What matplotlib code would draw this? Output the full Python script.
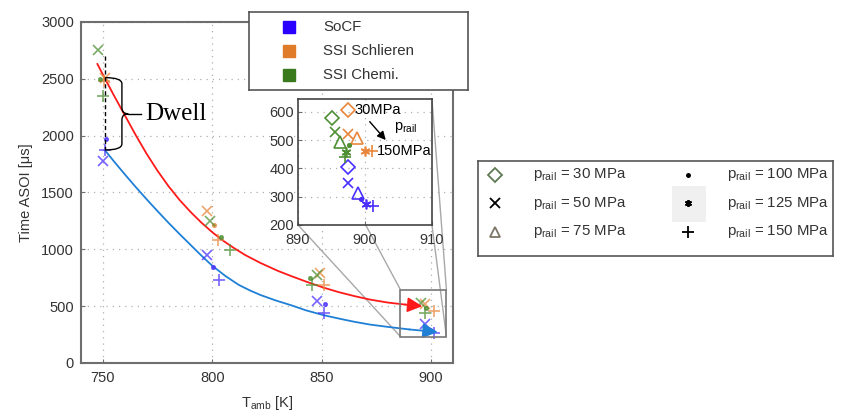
import numpy as np
import matplotlib
matplotlib.use('Agg')
import matplotlib.pyplot as plt
from matplotlib.patches import Rectangle, ConnectionPatch, PathPatch
from matplotlib.path import Path

plt.rcParams['font.family'] = ['Liberation Sans', 'DejaVu Sans']
plt.rcParams['mathtext.fontset'] = 'custom'
plt.rcParams['mathtext.rm'] = 'Liberation Sans'
plt.rcParams['mathtext.it'] = 'Liberation Sans:italic'

# ---- data ----
series_names = ['SoCF', 'SSI Schlieren', 'SSI Chemi.']
series_colors = ['#2a00ff', '#e07b2a', '#3b7a1c']
point_colors = ['#4a30ff', '#e8873c', '#4f9034']

pressures = [30, 50, 75, 100, 125, 150]
pressure_markers = ['D', 'x', '^', '.', (6, 2, 0), '+']
legend_marker_colors = ['#5e7a55', 'black', '#7d7565', 'black', 'black', 'black']

# main plot: p_rail = 50, 100, 150 MPa at T_amb ~ 750 / 800 / 850 K
main_pressures = [50, 100, 150]
socf_T = [[750.1, 797.6, 848.0], [751.2, 800.3, 851.4], [750.9, 802.9, 851.0]]
socf_t = [[1777, 953, 541], [1968, 844, 521], [1874, 733, 438]]
schl_T = [[751.0, 797.6, 849.0], [np.nan, 800.6, np.nan], [750.5, 802.4, 851.0]]
schl_t = [[2510, 1335, 790], [np.nan, 1218, np.nan], [2485, 1079, 688]]
chem_T = [[747.8, 799.1, 848.0], [748.6, 804.0, 844.5], [750.1, 808.0, 845.7]]
chem_t = [[2756, 1247, 770], [2500, 1106, 747], [2350, 997, 688]]

# 900 K cluster, all six rail pressures (shown in the inset)
socf_T_900 = [897.4, 897.4, 898.9, 899.4, 900.1, 901.2]
socf_t_900 = [406, 347, 312, 292, 273, 267]
schl_T_900 = [897.4, 897.4, 898.8, np.nan, 900.0, 901.1]
schl_t_900 = [606, 520, 506, np.nan, 461, 461]
chem_T_900 = [895.0, 895.5, 896.2, 897.6, 897.1, 897.0]
chem_t_900 = [579, 527, 494, 483, 459, 441]

# trend curves (traced)
red_T = [747.5, 751, 755, 760, 765, 770, 775, 780, 785, 790, 795, 800, 805, 810, 815, 822,
         830, 836, 843, 851, 858, 865, 872, 880, 888, 896]
red_t = [2630, 2500, 2355, 2180, 2005, 1840, 1690, 1555, 1435, 1330, 1235, 1150, 1075, 1010, 950, 880,
         810, 765, 715, 662, 622, 588, 558, 532, 514, 500]
blue_T = [751, 755, 760, 765, 770, 775, 780, 785, 790, 795, 800, 806, 812, 817, 822, 829,
          836, 843, 851, 858, 865, 872, 880, 890, 903]
blue_t = [1870, 1775, 1660, 1548, 1440, 1335, 1233, 1135, 1040, 945, 855, 765, 688, 640, 598, 550,
          508, 462, 420, 390, 362, 338, 318, 295, 272]

main_T = [socf_T, schl_T, chem_T]
main_t = [socf_t, schl_t, chem_t]
c900_T = [socf_T_900, schl_T_900, chem_T_900]
c900_t = [socf_t_900, schl_t_900, chem_t_900]

marker_size = {'D': 7, 'x': 6.5, '^': 8, '.': 5, '+': 8}


def msize(m):
    return marker_size.get(m, 7) if isinstance(m, str) else 7


def style_axes(ax):
    for s in ax.spines.values():
        s.set_color('#6e6e6e')
        s.set_linewidth(1.5)
    ax.grid(True, linestyle=(0, (1, 4)), color='#b0b0b0', lw=0.9)
    ax.set_axisbelow(True)
    ax.tick_params(direction='in', length=3, color='#6e6e6e', labelcolor='#333333', labelsize=10.5)


def draw_brace(ax, x0, ytop, ybot, width, tip):
    x1 = x0 + width
    ymid = (ytop + ybot) / 2
    h = (ytop - ybot) * 0.085
    verts = [(x0, ytop), (x1, ytop), (x1, ytop - h), (x1, ymid + h), (x1, ymid), (x1 + tip, ymid),
             (x1, ymid), (x1, ymid - h), (x1, ybot + h), (x1, ybot), (x0, ybot)]
    codes = [Path.MOVETO, Path.CURVE3, Path.CURVE3, Path.LINETO, Path.CURVE3, Path.CURVE3,
             Path.CURVE3, Path.CURVE3, Path.LINETO, Path.CURVE3, Path.CURVE3]
    ax.add_patch(PathPatch(Path(verts, codes), fill=False, edgecolor='black', lw=1.0, zorder=5))
    return x1 + tip, ymid


fig = plt.figure(figsize=(8.42, 4.12), dpi=100)
ax = fig.add_axes([0.0962, 0.119, 0.4418, 0.8277])
style_axes(ax)
ax.set_xlim(740, 910)
ax.set_ylim(0, 3000)
ax.set_xticks([750, 800, 850, 900])
ax.set_yticks(range(0, 3001, 500))
ax.tick_params(axis='x', pad=6)
ax.tick_params(axis='y', pad=5)
ax.set_xlabel(r'T$_{\mathrm{amb}}$ [K]', fontsize=10.5, color='#333333', labelpad=6)
ax.set_ylabel(r'Time ASOI [μs]', fontsize=10.5, color='#333333', labelpad=6)

# trend curves with arrow heads
for T, t, c in [(red_T, red_t, '#ff1a1a'), (blue_T, blue_t, '#1f80d6')]:
    ax.plot(T[:-1], t[:-1], color=c, lw=1.3, zorder=3)
    ax.annotate('', xy=(T[-1], t[-1]), xytext=(T[-2], t[-2]),
                arrowprops=dict(arrowstyle='-|>,head_length=0.9,head_width=0.45',
                                color=c, lw=1.3, shrinkA=0, shrinkB=0), zorder=6)

# scatter points (main)
for k in range(3):
    for j, p in enumerate(main_pressures):
        i = pressures.index(p)
        m = pressure_markers[i]
        xs = list(main_T[k][j]) + [c900_T[k][i]]
        ys = list(main_t[k][j]) + [c900_t[k][i]]
        ax.plot(xs, ys, ls='none', marker=m, ms=msize(m), mew=1.2, color=point_colors[k],
                alpha=0.75, zorder=4)

# dwell marker
ax.plot([schl_T[0][0], schl_T[0][0]], [2700, socf_t[2][0]], 'k--', lw=1.0, dashes=(3, 2), zorder=5)
tx, ty = draw_brace(ax, 751.2, schl_t[0][0], socf_t[2][0], 7.5, 2.9)
ax.plot([tx, 767.5], [ty, ty], color='black', lw=1.0, zorder=5)
ax.text(769.5, ty, 'Dwell', family=['Liberation Serif', 'DejaVu Serif'], fontsize=18, va='center', ha='left')

# zoom box
box = (886, 232, 21, 412)
ax.add_patch(Rectangle(box[:2], box[2], box[3], fill=False, edgecolor='#777777', lw=1.2, zorder=6))

# inset
axin = fig.add_axes([0.354, 0.4539, 0.159, 0.3058])
style_axes(axin)
for s in axin.spines.values():
    s.set_color('#444444')
    s.set_linewidth(1.2)
axin.set_xlim(890, 910)
axin.set_ylim(200, 645)
axin.set_xticks([890, 900, 910])
axin.set_yticks([200, 300, 400, 500, 600])
axin.tick_params(axis='y', pad=3)
axin.tick_params(axis='x', pad=6)
for k in range(3):
    for i, m in enumerate(pressure_markers):
        axin.plot(c900_T[k][i], c900_t[k][i], ls='none', marker=m, ms=msize(m), mew=1.2,
                  markerfacecolor='none' if m in ('D', '^') else point_colors[k],
                  markeredgecolor=point_colors[k], zorder=4)
axin.text(schl_T_900[0] + 1.0, schl_t_900[0], '30MPa', fontsize=10.5, va='center', ha='left', zorder=6)
axin.text(schl_T_900[5] + 0.6, schl_t_900[5], '150MPa', fontsize=10.5, va='center', ha='left', zorder=6)
axin.text(904.3, 543, r'p$_{\mathrm{rail}}$', fontsize=10.5, va='center', ha='left', zorder=6)
axin.annotate('', xy=(903.1, 500), xytext=(900.7, 565),
              arrowprops=dict(arrowstyle='-|>,head_length=0.5,head_width=0.25', color='black', lw=1.0,
                              shrinkA=0, shrinkB=0))

# connector lines from the zoom box to the inset
bx, by, bw, bh = box
for (xa, ya), (xb, yb) in [((bx, by + bh), (0, 1)), ((bx, by), (0, 0)),
                            ((bx + bw, by + bh), (1, 1)), ((bx + bw, by), (1, 0))]:
    con = ConnectionPatch(xyA=(xa, ya), coordsA=ax.transData, xyB=(xb, yb), coordsB=axin.transAxes,
                          color='#a8a8a8', lw=1.0)
    con.set_clip_on(False)
    ax.add_artist(con)

# legend 1: data sources
leg1 = fig.add_axes([0.2957, 0.7816, 0.26, 0.189], zorder=10)
leg1.set_xlim(0, 1)
leg1.set_ylim(0, 1)
leg1.set_xticks([])
leg1.set_yticks([])
for s in leg1.spines.values():
    s.set_color('#555555')
    s.set_linewidth(1.2)
for name, c, y in zip(series_names, series_colors, [0.808, 0.5, 0.192]):
    leg1.plot(0.183, y, marker='s', ms=8.5, color=c, ls='none')
    leg1.text(0.338, y, name, fontsize=10.8, color='#333333', va='center', ha='left')

# legend 2: rail pressures
leg2 = fig.add_axes([0.5677, 0.3786, 0.4216, 0.2306], zorder=10)
leg2.set_xlim(0, 1)
leg2.set_ylim(0, 1)
leg2.set_xticks([])
leg2.set_yticks([])
for s in leg2.spines.values():
    s.set_color('#555555')
    s.set_linewidth(1.2)
leg2.add_patch(Rectangle((0.546, 0.358), 0.096, 0.379, color='#f0f0f0', lw=0))
rows = [0.853, 0.558, 0.253]
legend_sizes = {'D': 7, 'x': 7, '^': 7.5, '.': 4.5, '+': 8.5}
for i, (p, m, c) in enumerate(zip(pressures, pressure_markers, legend_marker_colors)):
    col = i // 3
    y = rows[i % 3]
    mx = [0.048, 0.5915][col]
    txx = [0.155, 0.701][col]
    ms = legend_sizes.get(m, 5) if isinstance(m, str) else 5
    leg2.plot(mx, y, ls='none', marker=m, ms=ms, mew=1.3,
              markerfacecolor='none' if m in ('D', '^') else c, markeredgecolor=c)
    leg2.text(txx, y, r'p$_{\mathrm{rail}}$ = %d MPa' % p, fontsize=10.8, color='#333333',
              va='center', ha='left')

fig.savefig('out.png', dpi=100)
